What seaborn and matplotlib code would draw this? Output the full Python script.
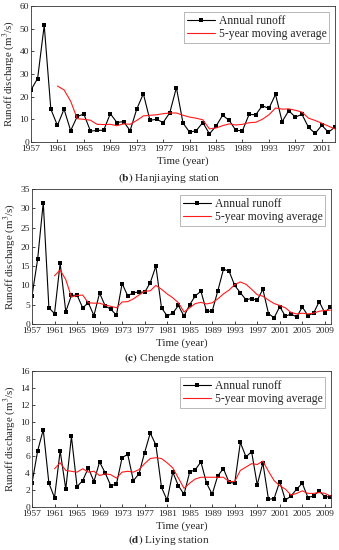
import matplotlib
matplotlib.use('Agg')
import matplotlib.pyplot as plt
import seaborn as sns
import pandas as pd

# Hanjiaying station (b), 1957-2003
years_b = list(range(1957, 2004))
runoff_b = [23, 28, 51.5, 14.5, 7.3, 14.5, 5, 11.3, 12.3, 4.8,
            5.1, 5.2, 12.5, 8.6, 9, 5, 14.5, 21.3, 9.6, 10,
            8.6, 12.9, 24, 8.4, 4.3, 5, 8.6, 3.6, 7, 11.8,
            9.5, 5.1, 5, 12.2, 12, 16, 14.8, 21, 9, 13.8,
            11, 12.2, 6.4, 3.8, 7.4, 4.3, 6.6]
ma_years_b = list(range(1961, 2004))
ma_b = [24.7, 23, 18, 10.3, 10, 9.6, 7.8, 7.7, 7.8, 7.2,
        8, 7.8, 9.5, 11.5, 11.8, 12, 12.5, 12.8, 12.8, 11.8,
        11, 10.5, 9.8, 5.8, 6.2, 7.2, 8, 7.5, 7.8, 8.5,
        8.7, 10, 12, 15, 14.5, 14.6, 14, 13.2, 10.5, 9.5,
        8.3, 7, 5.8]

# Chengde station (c), 1957-2010
years_c = list(range(1957, 2011))
runoff_c = [7.3, 16.8, 31.5, 4.2, 2.7, 15.8, 3.2, 7.4, 7.5, 4.2,
            5.5, 2.2, 8, 4.7, 3.8, 2.3, 10.5, 7.3, 8.1, 8.3,
            8.2, 10.7, 15, 4.2, 2.1, 2.8, 4.8, 2, 5, 7.3,
            8.5, 3.3, 3.3, 8.6, 14.2, 13.7, 10, 8.1, 6.3, 6.6,
            6.2, 9, 2.7, 1.6, 4.5, 2, 2.6, 1.8, 4.4, 2.2,
            2.8, 5.8, 2.9, 4.5]
ma_years_c = list(range(1961, 2011))
ma_c = [12.5, 14, 11.5, 7, 7.4, 7.5, 5.5, 5.4, 5.4, 4.9,
        4.6, 4.2, 5.7, 5.8, 6.5, 7.5, 8.5, 8.6, 10, 9,
        7.8, 6.8, 5.5, 3.1, 4.2, 5.3, 5.6, 5.2, 5.5, 6.5,
        7.8, 8.8, 10.2, 10.9, 10.3, 9, 7.6, 7.2, 6.2, 5.3,
        4.8, 4.2, 3, 2.6, 2.8, 2.6, 2.8, 3.3, 3.5, 3.6]

# Liying station (d), 1957-2010
years_d = list(range(1957, 2011))
runoff_d = [2.8, 6.6, 9.1, 2.8, 1.1, 6.6, 2.1, 8.3, 2.4, 3.1,
            4.6, 3, 5.3, 4, 2.5, 2.7, 5.8, 6.2, 3.1, 3.9,
            6.4, 8.7, 7.3, 2.3, 0.8, 4.1, 2.5, 1.5, 4.1, 4.4,
            5.3, 2.8, 1.5, 3.7, 4.5, 2.9, 2.8, 7.6, 5.9, 6.5,
            2.6, 5.2, 0.9, 1, 3, 0.8, 1.3, 2.1, 2.8, 1.1,
            1.3, 1.9, 1.2, 1.2]
ma_years_d = list(range(1961, 2011))
ma_d = [4.5, 5.2, 4.3, 4.2, 4.1, 4.5, 4.1, 4.2, 3.7, 3.9,
        3.8, 3.4, 4.1, 4.2, 4.1, 4.4, 5.1, 5.7, 5.8, 5.7,
        5.2, 4.6, 3.4, 2.2, 2.8, 3.3, 3.5, 3.5, 3.5, 3.5,
        3.5, 3.0, 3.0, 4.3, 4.7, 5.1, 5.0, 5.4, 4.2, 3.1,
        2.5, 2.1, 1.4, 1.6, 1.9, 1.6, 1.6, 1.7, 1.6, 1.3]

sns.set_style('ticks')
plt.rcParams['font.family'] = ['Liberation Serif', 'DejaVu Serif']
plt.rcParams['mathtext.fontset'] = 'stix'

W, H = 339, 550
fig = plt.figure(figsize=(W / 100, H / 100), dpi=100)


def px_axes(left, right, top, bottom):
    return fig.add_axes([left / W, (H - bottom) / H, (right - left) / W, (bottom - top) / H])


def draw_panel(ax, years, runoff, ma_years, ma, xmax, xticks, ymax, ystep, caption, cap_y):
    df = pd.DataFrame({'year': years, 'runoff': runoff})
    df_ma = pd.DataFrame({'year': ma_years, 'ma': ma})
    sns.lineplot(data=df, x='year', y='runoff', ax=ax, color='black', linewidth=0.8,
                 marker='s', markersize=3.2, markeredgewidth=0, label='Annual runoff')
    sns.lineplot(data=df_ma, x='year', y='ma', ax=ax, color='#ff1a1a', linewidth=0.8,
                 label='5-year moving average')
    ax.set_xlim(1957, xmax)
    ax.set_ylim(0, ymax)
    ax.set_xticks(xticks)
    ax.set_yticks(list(range(0, ymax + 1, ystep)))
    ax.tick_params(direction='in', length=2, width=0.6, labelsize=6.8)
    ax.tick_params(axis='x', pad=2.5)
    ax.tick_params(axis='y', pad=1.5)
    for s in ax.spines.values():
        s.set_linewidth(0.6)
        s.set_color('#333333')
    ax.set_xlabel('Time (year)', fontsize=7.8, labelpad=2)
    ax.set_ylabel('Runoff discharge (m$^3$/s)', fontsize=7.8, labelpad=2)
    leg = ax.legend(loc='upper right', fontsize=8.4, frameon=True, fancybox=False,
                    edgecolor='#999999', handlelength=2.4, handletextpad=0.3,
                    borderpad=0.25, labelspacing=0.1, borderaxespad=0.5)
    leg.get_frame().set_linewidth(0.6)
    fig.text(0.5, cap_y, caption, ha='center', va='center', fontsize=8.2)


ax_b = px_axes(31, 335, 6, 142)
draw_panel(ax_b, years_b, runoff_b, ma_years_b, ma_b, 2003, list(range(1957, 2002, 4)),
           60, 10, r'$\mathbf{(b)}$ Hanjiaying station', 1 - 178 / H)

ax_c = px_axes(32, 331, 189, 324)
draw_panel(ax_c, years_c, runoff_c, ma_years_c, ma_c, 2010.1, list(range(1957, 2010, 4)),
           35, 5, r'$\mathbf{(c)}$ Chengde station', 1 - 358 / H)

ax_d = px_axes(32, 331, 371, 507)
draw_panel(ax_d, years_d, runoff_d, ma_years_d, ma_d, 2010.1, list(range(1957, 2010, 4)),
           16, 2, r'$\mathbf{(d)}$ Liying station', 1 - 540 / H)

fig.savefig('out.png', dpi=100)
